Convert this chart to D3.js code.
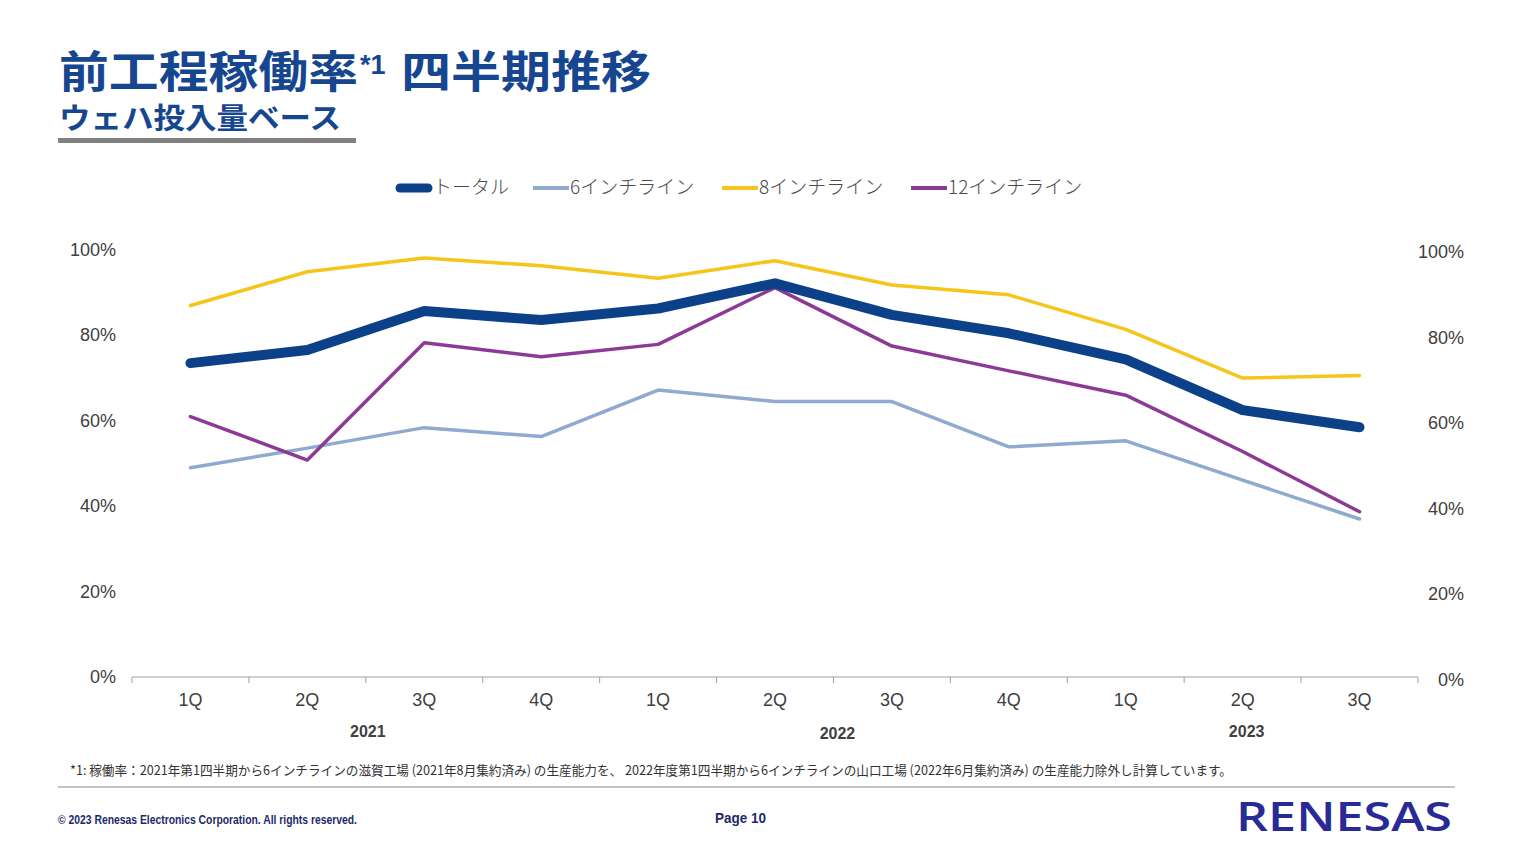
<!DOCTYPE html>
<html lang="ja">
<head>
<meta charset="utf-8">
<script src="https://cdn.jsdelivr.net/npm/d3@7/dist/d3.min.js"></script>
<style>
  html, body { margin: 0; padding: 0; background: #fff; }
  svg { display: block; }
</style>
</head>
<body>
<svg id="chart" width="1513" height="851"></svg>
<script>
// ---- data ----
const categories = ["2021-1Q","2021-2Q","2021-3Q","2021-4Q","2022-1Q","2022-2Q","2022-3Q","2022-4Q","2023-1Q","2023-2Q","2023-3Q"];
const quarterLabels = ["1Q","2Q","3Q","4Q","1Q","2Q","3Q","4Q","1Q","2Q","3Q"];
const yearLabels = ["2021","2022","2023"];
const yearCounts = [4, 4, 3];
const total   = [73.5, 76.6, 85.7, 83.6, 86.3, 92.2, 84.8, 80.5, 74.4, 62.5, 58.5];
const inch6   = [49.0, 53.6, 58.4, 56.3, 67.2, 64.5, 64.5, 53.9, 55.3, 46.1, 37.0];
const inch8   = [87.0, 94.9, 98.1, 96.3, 93.4, 97.5, 91.8, 89.5, 81.4, 70.0, 70.6];
const inch12  = [61.0, 50.8, 78.3, 75.0, 77.9, 91.2, 77.5, 71.7, 66.0, 52.8, 38.7];
const seriesNames = ["トータル", "6インチライン", "8インチライン", "12インチライン"];
const yTicks = [0, 20, 40, 60, 80, 100];

const seriesList = [
  { name: seriesNames[0], values: total,  color: "#0c4189", width: 10 },
  { name: seriesNames[1], values: inch6,  color: "#8eaacf", width: 3.5 },
  { name: seriesNames[2], values: inch8,  color: "#f6c51b", width: 3.5 },
  { name: seriesNames[3], values: inch12, color: "#8c3a95", width: 3.5 }
];

const svg = d3.select("#chart");
const JP = "'Noto Sans CJK JP', 'Noto Sans', sans-serif";
const AR = "'Liberation Sans', Arial, sans-serif";
const titleColor = "#16468f";

// ---- title ----
svg.append("text").attr("x", 59).attr("y", 88)
  .attr("font-family", JP).attr("font-weight", 700).attr("fill", titleColor)
  .attr("font-size", 44).attr("textLength", 299).attr("lengthAdjust", "spacingAndGlyphs")
  .text("前工程稼働率");
svg.append("text").attr("x", 360).attr("y", 74)
  .attr("font-family", AR).attr("font-weight", 700).attr("fill", titleColor)
  .attr("font-size", 27).text("*1");
svg.append("text").attr("x", 401).attr("y", 88)
  .attr("font-family", JP).attr("font-weight", 700).attr("fill", titleColor)
  .attr("font-size", 44).attr("textLength", 250).attr("lengthAdjust", "spacingAndGlyphs")
  .text("四半期推移");

svg.append("text").attr("x", 59).attr("y", 129)
  .attr("font-family", JP).attr("font-weight", 700).attr("fill", titleColor)
  .attr("font-size", 29).attr("textLength", 282).attr("lengthAdjust", "spacingAndGlyphs")
  .text("ウェハ投入量ベース");

svg.append("rect").attr("x", 58).attr("y", 138).attr("width", 298).attr("height", 5).attr("fill", "#808080");

// ---- scales ----
const x = d3.scaleBand().domain(categories).range([132, 1418]);
const y = d3.scaleLinear().domain([0, 100]).range([677, 250]);
const yR = d3.scaleLinear().domain([0, 100]).range([680, 252]);

// ---- axes ----
const axisColor = "#a0a0a0";
svg.append("line").attr("x1", x.range()[0]).attr("x2", x.range()[1])
  .attr("y1", y(0)).attr("y2", y(0)).attr("stroke", axisColor).attr("stroke-width", 1.2);

const boundaries = categories.map(c => x(c)).concat([x.range()[1]]);
svg.selectAll(".xtick").data(boundaries).join("line")
  .attr("x1", d => d).attr("x2", d => d).attr("y1", y(0)).attr("y2", y(0) + 6)
  .attr("stroke", axisColor).attr("stroke-width", 1);

svg.selectAll(".qlabel").data(categories).join("text")
  .attr("x", d => x(d) + x.bandwidth() / 2).attr("y", 706)
  .attr("text-anchor", "middle").attr("font-family", AR).attr("font-size", 18)
  .attr("fill", "#404040").text((d, i) => quarterLabels[i]);

let start = 0;
yearLabels.forEach((yl, i) => {
  const first = categories[start];
  const last = categories[start + yearCounts[i] - 1];
  const cx = (x(first) + x(last) + x.bandwidth()) / 2;
  svg.append("text").attr("x", cx + (i === 0 ? 2 : 4)).attr("y", i === 1 ? 739 : 737)
    .attr("text-anchor", "middle").attr("font-family", AR).attr("font-weight", 700)
    .attr("font-size", 16).attr("fill", "#404040").text(yl);
  start += yearCounts[i];
});

svg.selectAll(".ylab").data(yTicks).join("text")
  .attr("x", 116).attr("y", d => y(d) + 6).attr("text-anchor", "end")
  .attr("font-family", AR).attr("font-size", 18).attr("fill", "#404040")
  .text(d => d + "%");

svg.selectAll(".ylabR").data(yTicks).join("text")
  .attr("x", 1464).attr("y", d => yR(d) + 6).attr("text-anchor", "end")
  .attr("font-family", AR).attr("font-size", 18).attr("fill", "#404040")
  .text(d => d + "%");

// ---- lines ----
const line = d3.line()
  .x((d, i) => x(categories[i]) + x.bandwidth() / 2)
  .y(d => y(d));

[seriesList[1], seriesList[2], seriesList[3], seriesList[0]].forEach(s => {
  svg.append("path").datum(s.values).attr("d", line)
    .attr("fill", "none").attr("stroke", s.color).attr("stroke-width", s.width)
    .attr("stroke-linecap", "round").attr("stroke-linejoin", "round");
});

// ---- legend ----
const legendPos = [396, 533, 722, 911];
seriesList.forEach((s, i) => {
  const lx = legendPos[i];
  const sw = 36;
  svg.append("line").attr("x1", lx + (s.width > 5 ? 4 : 0)).attr("x2", lx + sw - (s.width > 5 ? 4 : 0))
    .attr("y1", 188).attr("y2", 188).attr("stroke", s.color)
    .attr("stroke-width", s.width > 5 ? 9 : 4)
    .attr("stroke-linecap", s.width > 5 ? "round" : "butt");
  svg.append("text").attr("x", lx + sw + 1).attr("y", 194)
    .attr("font-family", JP).attr("font-size", 19).attr("fill", "#4a4a4a")
    .attr("font-weight", 300)
    .text(s.name);
});

// ---- footnote ----
svg.append("text").attr("x", 70).attr("y", 775)
  .attr("font-family", JP).attr("font-size", 13).attr("fill", "#333")
  .attr("textLength", 1162).attr("lengthAdjust", "spacingAndGlyphs")
  .text("*1: 稼働率：2021年第1四半期から6インチラインの滋賀工場 (2021年8月集約済み) の生産能力を、 2022年度第1四半期から6インチラインの山口工場 (2022年6月集約済み) の生産能力除外し計算しています。");

svg.append("line").attr("x1", 58).attr("x2", 1455).attr("y1", 787).attr("y2", 787)
  .attr("stroke", "#8a8a8a").attr("stroke-width", 1);

// ---- footer ----
svg.append("text").attr("x", 58).attr("y", 824)
  .attr("font-family", AR).attr("font-weight", 700).attr("font-size", 12)
  .attr("fill", "#1c2a6a").attr("textLength", 299).attr("lengthAdjust", "spacingAndGlyphs")
  .text("© 2023 Renesas Electronics Corporation. All rights reserved.");

svg.append("text").attr("x", 715).attr("y", 823)
  .attr("font-family", AR).attr("font-weight", 700).attr("font-size", 15)
  .attr("fill", "#1c2a6a").attr("textLength", 51).attr("lengthAdjust", "spacingAndGlyphs")
  .text("Page 10");

svg.append("text").attr("x", 1236).attr("y", 831)
  .attr("font-family", "'Open Sans', 'DejaVu Sans', sans-serif").attr("font-weight", 600).attr("font-size", 40)
  .attr("fill", "#2a2a96").attr("textLength", 216).attr("lengthAdjust", "spacingAndGlyphs")
  .text("RENESAS");
</script>
</body>
</html>
